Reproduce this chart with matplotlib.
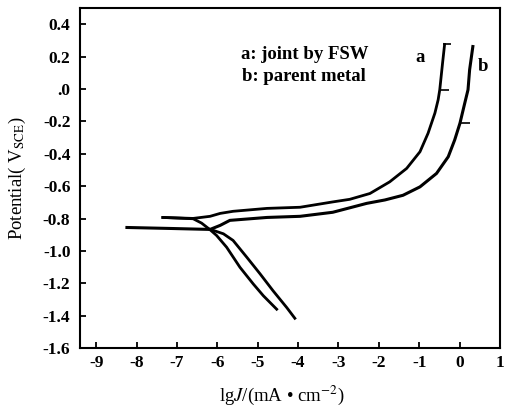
import numpy as np
import matplotlib
matplotlib.use("Agg")
from matplotlib import pyplot as plt

# curve a: joint by FSW (cathodic branch, then anodic branch from Ecorr)
a_cath_x = [-4.53, -4.86, -5.11, -5.44, -5.77, -6.02, -6.18, -6.39, -6.60]
a_cath_y = [-1.360, -1.277, -1.204, -1.101, -0.977, -0.904, -0.869, -0.828, -0.801]
a_anod_x = [-7.35, -6.60, -6.18, -5.93, -5.61, -4.77, -3.95, -3.14, -2.72, -2.22,
            -1.73, -1.31, -0.98, -0.78, -0.61, -0.53, -0.49, -0.42, -0.37]
a_anod_y = [-0.793, -0.799, -0.786, -0.768, -0.755, -0.737, -0.730, -0.697, -0.681, -0.645,
            -0.573, -0.490, -0.387, -0.273, -0.148, -0.066, -0.004, 0.162, 0.276]

# curve b: parent metal
b_cath_x = [-4.08, -4.28, -4.62, -4.94, -5.27, -5.61, -5.85, -6.10]
b_cath_y = [-1.416, -1.350, -1.246, -1.142, -1.039, -0.935, -0.894, -0.873]
b_anod_x = [-8.24, -7.17, -6.18, -5.93, -5.69, -4.77, -3.95, -3.14, -2.30, -1.85,
            -1.40, -0.98, -0.57, -0.28, -0.12, 0.01, 0.13, 0.21, 0.25, 0.33]
b_anod_y = [-0.855, -0.861, -0.867, -0.842, -0.811, -0.793, -0.786, -0.761, -0.706, -0.685,
            -0.656, -0.604, -0.521, -0.418, -0.314, -0.211, -0.086, -0.004, 0.120, 0.263]

# small noise spikes on the anodic branches
spike_y = [0.276, -0.004, -0.209]
spike_x0 = [-0.40, -0.49, 0.01]
spike_x1 = [-0.22, -0.27, 0.25]

xticks = [-9, -8, -7, -6, -5, -4, -3, -2, -1, 0, 1]
yticks = [0.4, 0.2, 0.0, -0.2, -0.4, -0.6, -0.8, -1.0, -1.2, -1.4, -1.6]
ytick_labels = ["0.4", "0.2", ".0", "-0.2", "-0.4", "-0.6", "-0.8",
                "-1.0", "-1.2", "-1.4", "-1.6"]

plt.rcParams['font.family'] = ['Liberation Serif', 'DejaVu Serif']
plt.rcParams['mathtext.fontset'] = 'stix'

fig = plt.figure(figsize=(5.07, 4.09), dpi=100)
ax = fig.add_axes([0.158, 0.149, 0.828, 0.831])

ax.plot(a_cath_x + [a_anod_x[0]], a_cath_y + [a_anod_y[0]], color='black', lw=2)
ax.plot(a_anod_x, a_anod_y, color='black', lw=2)
ax.plot(b_cath_x + [b_anod_x[2]], b_cath_y + [b_anod_y[2]], color='black', lw=2)
ax.plot(b_anod_x, b_anod_y, color='black', lw=2.2)
ax.hlines(spike_y, spike_x0, spike_x1, color='black', lw=1.2)

ax.set_xlim(-9.4, 1.0)
ax.set_ylim(-1.6, 0.5)
ax.set_xticks(xticks)
ax.set_xticklabels([str(v) for v in xticks], fontsize=12.5, fontweight='bold')
ax.set_yticks(yticks)
ax.set_yticklabels(ytick_labels, fontsize=12.5, fontweight='bold')
ax.tick_params(direction='in', length=4, width=1.3)
ax.tick_params(axis='y', pad=7)
ax.tick_params(axis='x', pad=5)
for s in ax.spines.values():
    s.set_linewidth(1.5)

ax.text(-3.83, 0.214, "a: joint by FSW", ha='center', va='center', fontsize=13.5, fontweight='bold')
ax.text(-3.86, 0.077, "b: parent metal", ha='center', va='center', fontsize=13.5, fontweight='bold')
ax.text(-0.98, 0.195, "a", ha='center', va='center', fontsize=13.5, fontweight='bold')
ax.text(0.58, 0.139, "b", ha='center', va='center', fontsize=13.5, fontweight='bold')

ax.set_ylabel(r"Potential( V$_{\mathrm{SCE}}$)", fontsize=13.5)
ax.yaxis.set_label_coords(-0.125, 0.5)
ax.set_xlabel(r"lg$\mathit{J}$/(mA • cm$^{-2}$)", fontsize=13.5)
ax.xaxis.set_label_coords(0.481, -0.105)

fig.savefig("out.png", dpi=100)
